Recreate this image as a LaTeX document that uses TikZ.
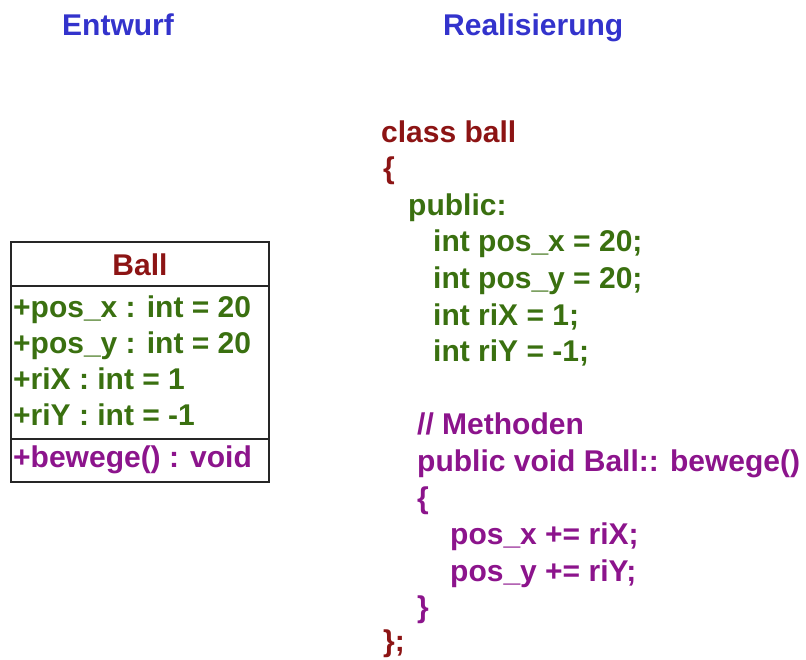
\documentclass[tikz,border=0pt]{standalone}
\usepackage{fontspec}
\setmainfont{Liberation Sans}
\definecolor{headblue}{RGB}{51,51,204}
\definecolor{classred}{RGB}{140,20,20}
\definecolor{attrgreen}{RGB}{58,112,16}
\definecolor{methpurple}{RGB}{140,20,140}
\begin{document}
\begin{tikzpicture}[x=1pt,y=-1pt,
  txt/.style={anchor=base west,inner sep=0pt,font=\fontsize{30}{36}\selectfont\bfseries},
  head/.style={txt,text=headblue},
  cred/.style={txt,text=classred},
  cgreen/.style={txt,text=attrgreen},
  cpurple/.style={txt,text=methpurple},
  umlline/.style={draw=black!85,line width=1.3pt}]
\useasboundingbox (0,0) rectangle (806,659);

% column headings
\node[head] (hEntwurf) at (62,35) {Entwurf};
\node[head] (hReal) at (443,35) {Realisierung};

% UML class box
\coordinate (boxTL) at (11,242);
\coordinate (boxBR) at (269,482);
\coordinate (sepA) at (11,286);
\coordinate (sepB) at (11,439);
\draw[umlline] (boxTL) rectangle (boxBR);
\draw[umlline] (sepA) -- ++(258,0);
\draw[umlline] (sepB) -- ++(258,0);
\node[cred,anchor=base] (uName) at (140,275) {Ball};
\node[cgreen] (uA1) at (13,317) {+pos\_x : int = 20};
\node[cgreen] (uA2) at (13,353) {+pos\_y : int = 20};
\node[cgreen] (uA3) at (13,389) {+riX : int = 1};
\node[cgreen] (uA4) at (13,425) {+riY : int = -1};
\node[cpurple] (uM1) at (13,467) {+bewege() : void};

% C++ source
\node[cred] (c1) at (381,142) {class ball};
\node[cred] (c2) at (383,178.6) {\{};
\node[cgreen] (c3) at (408,215.2) {public:};
\node[cgreen] (c4) at (433,251.8) {int pos\_x = 20;};
\node[cgreen] (c5) at (433,288.4) {int pos\_y = 20;};
\node[cgreen] (c6) at (433,325) {int riX = 1;};
\node[cgreen] (c7) at (433,361.6) {int riY = -1;};
\node[cpurple] (c8) at (417,434.8) {// Methoden};
\node[cpurple] (c9) at (417,471.4) {public void Ball:: bewege()};
\node[cpurple] (c10) at (417,508) {\{};
\node[cpurple] (c11) at (450,544.6) {pos\_x += riX;};
\node[cpurple] (c12) at (450,581.2) {pos\_y += riY;};
\node[cpurple] (c13) at (417,617.8) {\}};
\node[cred] (c14) at (383,651) {\};};
\end{tikzpicture}
\end{document}
